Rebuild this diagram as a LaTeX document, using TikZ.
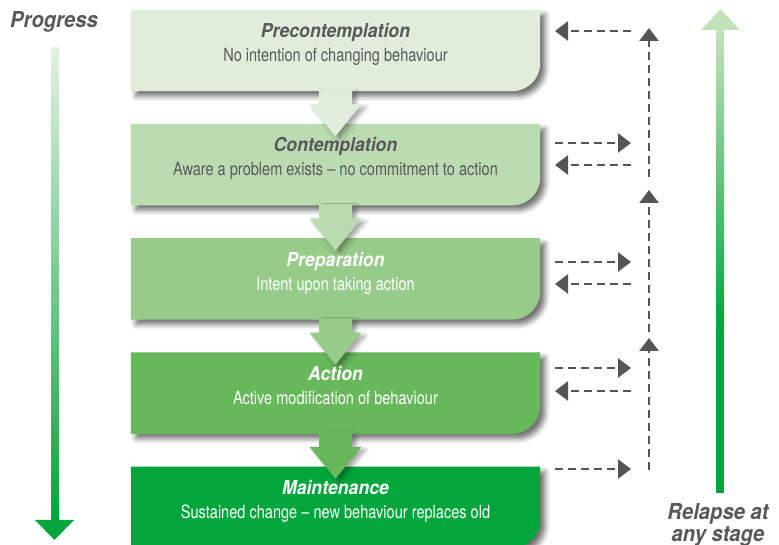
\documentclass[tikz,border=0pt]{standalone}
\usepackage{fontspec}
\setmainfont{TeX Gyre Heros}[FakeStretch=0.8]
\newfontfamily\headfont{TeX Gyre Heros}[FakeStretch=0.92]
\usetikzlibrary{positioning,arrows.meta,shadows.blur}

% stage colours, light to dark
\definecolor{stageA}{HTML}{E0EDDB}
\definecolor{stageB}{HTML}{BBDBB0}
\definecolor{stageC}{HTML}{97CB89}
\definecolor{stageD}{HTML}{66B85B}
\definecolor{stageE}{HTML}{00A63C}
\definecolor{textgrey}{HTML}{58595B}
\definecolor{dashgrey}{HTML}{555555}
\definecolor{progtop}{HTML}{E4F0E0}
\definecolor{relapsetop}{HTML}{C4E2BA}

\tikzset{
  stagebox/.style={minimum width=409pt, minimum height=81pt, inner sep=0pt},
  stagetitle/.style={anchor=base, inner sep=0pt, font=\headfont\fontsize{19.2}{21}\selectfont\bfseries\itshape},
  stagetext/.style={anchor=base, inner sep=0pt, font=\fontsize{18.2}{20}\selectfont},
  sidelabel/.style={inner sep=0pt, text=textgrey, align=center,
    font=\headfont\fontsize{22}{22}\selectfont\bfseries\itshape},
  boxshadow/.style={blur shadow={shadow xshift=5pt, shadow yshift=-5pt,
    shadow blur radius=5pt, shadow opacity=55}},
  arrowshadow/.style={blur shadow={shadow xshift=4pt, shadow yshift=-3pt,
    shadow blur radius=4pt, shadow opacity=35}},
  relapse/.style={draw=dashgrey, line width=2.6pt, dash pattern=on 8pt off 5pt,
    -{Triangle[length=13pt, width=19pt]}}
}

\begin{document}
\begin{tikzpicture}[x=1pt, y=1pt]
  \useasboundingbox (0,0) rectangle (779,545);

  % Stage boxes, placed one under the other
  \node[stagebox] (precon) at (335.5,494.5) {};
  \node[stagebox, below=32.8pt of precon] (contem) {};
  \node[stagebox, below=32.8pt of contem] (prep) {};
  \node[stagebox, below=32.8pt of prep] (act) {};
  \node[stagebox, below=32.8pt of act] (maint) {};

  % Box shapes, only the bottom right corner is rounded
  \fill[stageA, boxshadow] (precon.north west) -- (precon.north east) -- ([yshift=28pt]precon.south east)
    arc[start angle=0, end angle=-90, radius=28pt] -- (precon.south west) -- cycle;
  \fill[stageB, boxshadow] (contem.north west) -- (contem.north east) -- ([yshift=28pt]contem.south east)
    arc[start angle=0, end angle=-90, radius=28pt] -- (contem.south west) -- cycle;
  \fill[stageA, arrowshadow] ([xshift=-16.5pt, yshift=1pt]precon.south) -- ++(0,-14) -- ++(-9.5,0)
    -- ++(26,-32) -- ++(26,32) -- ++(-9.5,0) -- ++(0,14) -- cycle;

  \fill[stageC, boxshadow] (prep.north west) -- (prep.north east) -- ([yshift=28pt]prep.south east)
    arc[start angle=0, end angle=-90, radius=28pt] -- (prep.south west) -- cycle;
  \fill[stageB, arrowshadow] ([xshift=-16.5pt, yshift=1pt]contem.south) -- ++(0,-14) -- ++(-9.5,0)
    -- ++(26,-32) -- ++(26,32) -- ++(-9.5,0) -- ++(0,14) -- cycle;

  \fill[stageD, boxshadow] (act.north west) -- (act.north east) -- ([yshift=28pt]act.south east)
    arc[start angle=0, end angle=-90, radius=28pt] -- (act.south west) -- cycle;
  \fill[stageC, arrowshadow] ([xshift=-16.5pt, yshift=1pt]prep.south) -- ++(0,-14) -- ++(-9.5,0)
    -- ++(26,-32) -- ++(26,32) -- ++(-9.5,0) -- ++(0,14) -- cycle;

  \fill[stageE, boxshadow] (maint.north west) -- (maint.north east) -- ([yshift=28pt]maint.south east)
    arc[start angle=0, end angle=-90, radius=28pt] -- (maint.south west) -- cycle;
  \fill[stageD, arrowshadow] ([xshift=-16.5pt, yshift=1pt]act.south) -- ++(0,-14) -- ++(-9.5,0)
    -- ++(26,-32) -- ++(26,32) -- ++(-9.5,0) -- ++(0,14) -- cycle;

  % Stage names and descriptions
  \node[stagetitle, text=textgrey] (precon-title) at ([yshift=-28pt]precon.north) {Precontemplation};
  \node[stagetext, text=textgrey] (precon-text) at ([yshift=-52pt]precon.north) {No intention of changing behaviour};
  \node[stagetitle, text=textgrey] (contem-title) at ([yshift=-28pt]contem.north) {Contemplation};
  \node[stagetext, text=textgrey] (contem-text) at ([yshift=-52pt]contem.north) {Aware a problem exists -- no commitment to action};
  \node[stagetitle, text=white] (prep-title) at ([yshift=-28pt]prep.north) {Preparation};
  \node[stagetext, text=white] (prep-text) at ([yshift=-52pt]prep.north) {Intent upon taking action};
  \node[stagetitle, text=white] (act-title) at ([yshift=-28pt]act.north) {Action};
  \node[stagetext, text=white] (act-text) at ([yshift=-52pt]act.north) {Active modification of behaviour};
  \node[stagetitle, text=white] (maint-title) at ([yshift=-28pt]maint.north) {Maintenance};
  \node[stagetext, text=white] (maint-text) at ([yshift=-52pt]maint.north) {Sustained change -- new behaviour replaces old};

  % Progress arrow on the left
  \node[sidelabel, anchor=base] (progress) at (54,517) {Progress};
  \shade[top color=progtop, bottom color=stageE] (51,24) rectangle (59,497);
  \fill[stageE] (35,25) -- (74,25) -- (54.5,5) -- cycle;

  % Relapse arrow on the right
  \fill[stageE] (716,52) rectangle (724,216);
  \shade[top color=relapsetop, bottom color=stageE] (716,215) rectangle (724,516);
  \fill[relapsetop] (701,515) -- (740,515) -- (720.5,536) -- cycle;
  \node[sidelabel, anchor=base] (relapse-label) at (718,3) {Relapse at\\any stage};

  % End points of the dashed relapse routes
  \coordinate (precon-in) at (555,514);  \coordinate (precon-gap) at (631,514);
  \coordinate (contem-out) at (555,402); \coordinate (contem-gap) at (631,402);
  \coordinate (contem-in) at (555,380);  \coordinate (contem-back) at (631,380);
  \coordinate (prep-out) at (555,283);   \coordinate (prep-gap) at (631,283);
  \coordinate (prep-in) at (555,261);    \coordinate (prep-back) at (631,261);
  \coordinate (act-out) at (555,177);    \coordinate (act-gap) at (631,177);
  \coordinate (act-in) at (555,154);     \coordinate (act-back) at (631,154);
  \coordinate (maint-out) at (555,76);   \coordinate (maint-gap) at (631,76);
  \coordinate (up1-start) at (649,75);   \coordinate (up1-end) at (649,207);
  \coordinate (up2-start) at (649,213);  \coordinate (up2-end) at (649,355);
  \coordinate (up3-start) at (649,368);  \coordinate (up3-end) at (649,517);

  % Dashed relapse routes
  \draw[relapse] (precon-gap) -- (precon-in);
  \draw[relapse] (contem-out) -- (contem-gap);
  \draw[relapse] (contem-back) -- (contem-in);
  \draw[relapse] (prep-out) -- (prep-gap);
  \draw[relapse] (prep-back) -- (prep-in);
  \draw[relapse] (act-out) -- (act-gap);
  \draw[relapse] (act-back) -- (act-in);
  \draw[relapse] (maint-out) -- (maint-gap);
  \draw[relapse] (up1-start) -- (up1-end);
  \draw[relapse] (up2-start) -- (up2-end);
  \draw[relapse] (up3-start) -- (up3-end);
\end{tikzpicture}
\end{document}
